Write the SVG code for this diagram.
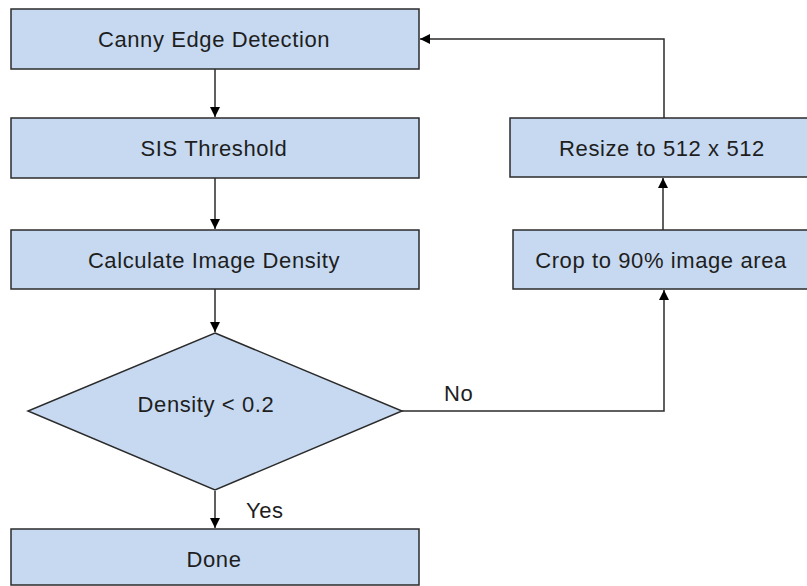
<svg xmlns="http://www.w3.org/2000/svg" width="807" height="586" viewBox="0 0 807 586">
<style>
.box{fill:#c6d9f0;stroke:#2b2b2b;stroke-width:1.5}
.t{font-family:"Liberation Sans",Arial,sans-serif;font-size:22px;letter-spacing:0.6px;fill:#1e1e1e;text-anchor:middle}
.l{font-family:"Liberation Sans",Arial,sans-serif;font-size:22px;letter-spacing:0.6px;fill:#1e1e1e}
.c{fill:none;stroke:#2b2b2b;stroke-width:1.5}
</style>
<defs>
<marker id="ah" viewBox="0 0 10 10" refX="10" refY="5" markerWidth="10" markerHeight="10" markerUnits="userSpaceOnUse" orient="auto">
<path d="M0,0 L10,5 L0,10 Z" fill="#000"/>
</marker>
</defs>
<rect width="807" height="586" fill="#fff"/>
<g id="connectors">
<path class="c" d="M215,69 V117" marker-end="url(#ah)"/>
<path class="c" d="M215,178 V229" marker-end="url(#ah)"/>
<path class="c" d="M215,289 V332" marker-end="url(#ah)"/>
<path class="c" d="M215,491 V528" marker-end="url(#ah)"/>
<path class="c" d="M402,411 H664 V290" marker-end="url(#ah)"/>
<path class="c" d="M663,230 V178" marker-end="url(#ah)"/>
<path class="c" d="M664,118 V39 H420" marker-end="url(#ah)"/>
<text class="l" x="444" y="401">No</text>
<text class="l" x="246" y="518">Yes</text>
</g>
<g id="canny"><rect class="box" x="11" y="9" width="408" height="60"/><text class="t" x="214" y="47">Canny Edge Detection</text></g>
<g id="sis"><rect class="box" x="11" y="118" width="408" height="60"/><text class="t" x="214" y="156">SIS Threshold</text></g>
<g id="density"><rect class="box" x="11" y="230" width="408" height="59"/><text class="t" x="214" y="268">Calculate Image Density</text></g>
<g id="decision"><polygon class="box" points="215,333 402,411 215,490 28,411"/><text class="t" x="206" y="412">Density &lt; 0.2</text></g>
<g id="done"><rect class="box" x="11" y="529" width="408" height="56"/><text class="t" x="214" y="567">Done</text></g>
<g id="resize"><rect class="box" x="510" y="118" width="310" height="59"/><text class="t" x="662" y="156">Resize to 512 x 512</text></g>
<g id="crop"><rect class="box" x="513" y="230" width="310" height="59"/><text class="t" x="661" y="268">Crop to 90% image area</text></g>
</svg>
